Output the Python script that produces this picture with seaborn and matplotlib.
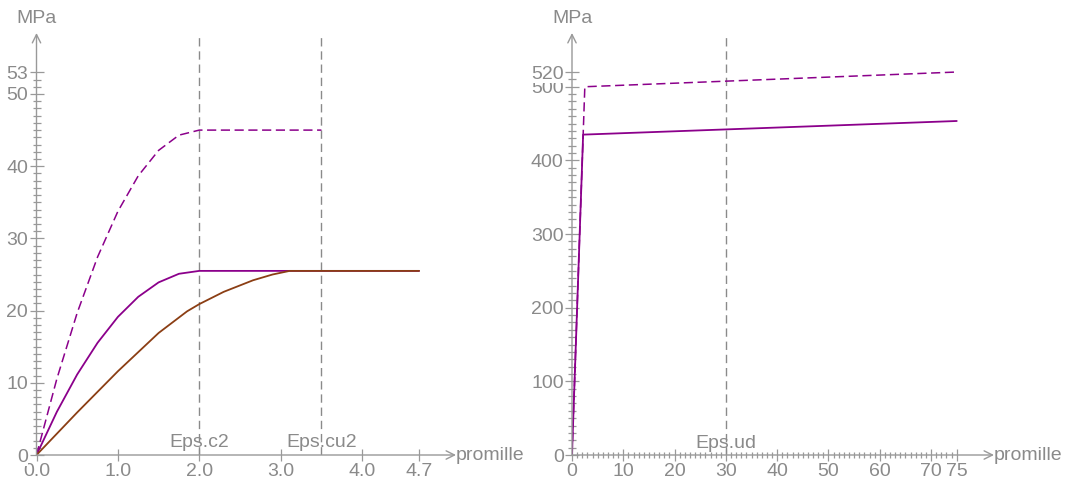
import numpy as np
import matplotlib
matplotlib.use("Agg")
import matplotlib.pyplot as plt
import seaborn as sns

# concrete (promille, MPa)
eps_design = [0.0, 0.25, 0.5, 0.75, 1.0, 1.25, 1.5, 1.75, 2.0, 4.7]
sig_design = [0.0, 5.98, 11.16, 15.54, 19.13, 21.91, 23.91, 25.10, 25.5, 25.5]
eps_char = [0.0, 0.25, 0.5, 0.75, 1.0, 1.25, 1.5, 1.75, 2.0, 3.5]
sig_char = [0.0, 10.55, 19.69, 27.42, 33.75, 38.67, 42.19, 44.30, 45.0, 45.0]
eps_nl = [0.0, 0.5, 1.0, 1.5, 1.85, 2.0, 2.3, 2.66, 2.9, 3.11, 4.7]
sig_nl = [0.0, 5.9, 11.6, 16.9, 19.9, 20.9, 22.6, 24.2, 25.0, 25.5, 25.5]
conc_lines = [2.0, 3.5]
conc_names = ["Eps.c2", "Eps.cu2"]
conc_xticks = [0.0, 1.0, 2.0, 3.0, 4.0, 4.7]
conc_yticks = [0, 10, 20, 30, 40, 50, 53]

# steel (promille, MPa)
eps_s_design = [0.0, 2.17, 75.0]
sig_s_design = [0.0, 435.0, 453.5]
eps_s_char = [0.0, 2.5, 75.0]
sig_s_char = [0.0, 500.0, 520.0]
steel_lines = [30.0]
steel_names = ["Eps.ud"]
steel_xticks = [0, 10, 20, 30, 40, 50, 60, 70, 75]
steel_yticks = [0, 100, 200, 300, 400, 500, 520]

sns.set_style("white")
plt.rcParams["font.family"] = ["Liberation Sans", "DejaVu Sans"]

grey = "#8a8a8a"
axgrey = "#999999"
purple = "#8b008b"
brown = "#8b3e14"
fs = 14
W, H = 1068, 482

fig = plt.figure(figsize=(W / 100, H / 100), dpi=100)


def setup(ax, xmax, ymax, xticks, xlabels, yticks, xminor, yminor):
    ax.set_xlim(0, xmax)
    ax.set_ylim(0, ymax)
    for s in ax.spines.values():
        s.set_visible(False)
    ax.set_xticks(xticks)
    ax.set_xticklabels(xlabels)
    ax.set_yticks(yticks)
    ax.set_yticklabels([str(v) for v in yticks])
    if xminor is not None:
        ax.set_xticks(xminor, minor=True)
    ax.set_yticks(yminor, minor=True)
    ax.tick_params(which="both", bottom=True, left=True, top=False, right=False)
    ax.tick_params(which="major", direction="inout", length=10, width=0.9,
                   color=axgrey, labelcolor=grey, labelsize=fs, pad=1)
    ax.tick_params(which="minor", direction="inout", length=6, width=0.9,
                   color=axgrey)
    ax.tick_params(axis="x", which="minor", length=5)
    ax.tick_params(axis="x", which="major", length=9)
    for lab in ax.get_yticklabels():
        lab.set_bbox(dict(facecolor="white", edgecolor="none", pad=0))
    arrow = dict(arrowstyle="->,head_length=0.6,head_width=0.3",
                 color=axgrey, lw=1, shrinkA=0, shrinkB=0)
    ax.annotate("", xy=(xmax, 0), xytext=(0, 0), arrowprops=arrow,
                annotation_clip=False)
    ax.annotate("", xy=(0, ymax), xytext=(0, 0), arrowprops=arrow,
                annotation_clip=False)
    ax.text(xmax, 0, "promille", ha="left", va="center", fontsize=fs,
            color=grey, clip_on=False)
    ax.annotate("MPa", xy=(0, ymax), xytext=(0, 4), textcoords="offset points",
                ha="center", va="bottom", fontsize=fs, color=grey,
                annotation_clip=False)


# left: concrete
ax1 = fig.add_axes([36.5 / W, 27 / H, 419.5 / W, 422 / H])
setup(ax1, 419.5 / 81.4, 422 / 7.22, conc_xticks,
      [f"{v:.1f}" for v in conc_xticks], conc_yticks, None,
      np.arange(0, 54, 1))
for x, name in zip(conc_lines, conc_names):
    ax1.axvline(x, color=grey, lw=1, linestyle=(0, (6, 3.5)))
    ax1.text(x, 0.5, name, ha="center", va="bottom", fontsize=fs, color=grey)
sns.lineplot(x=eps_char, y=sig_char, ax=ax1, color=purple, lw=1.1,
             linestyle=(0, (6, 3)), sort=False, estimator=None)
sns.lineplot(x=eps_design, y=sig_design, ax=ax1, color=purple, lw=1.3,
             sort=False, estimator=None)
sns.lineplot(x=eps_nl, y=sig_nl, ax=ax1, color=brown, lw=1.3,
             sort=False, estimator=None)
ax1.set_xlim(0, 419.5 / 81.4)
ax1.set_ylim(0, 422 / 7.22)

# right: steel
ax2 = fig.add_axes([572 / W, 27 / H, 422 / W, 422 / H])
setup(ax2, 422 / 5.13, 422 / 0.7365, steel_xticks,
      [str(v) for v in steel_xticks], steel_yticks, np.arange(0, 76, 1),
      np.arange(0, 521, 10))
for x, name in zip(steel_lines, steel_names):
    ax2.axvline(x, color=grey, lw=1, linestyle=(0, (6, 3.5)))
    ax2.text(x, 4, name, ha="center", va="bottom", fontsize=fs, color=grey)
sns.lineplot(x=eps_s_char, y=sig_s_char, ax=ax2, color=purple, lw=1.1,
             linestyle=(0, (6, 3)), sort=False, estimator=None)
sns.lineplot(x=eps_s_design, y=sig_s_design, ax=ax2, color=purple, lw=1.3,
             sort=False, estimator=None)
ax2.set_xlim(0, 422 / 5.13)
ax2.set_ylim(0, 422 / 0.7365)

fig.savefig("out.png", dpi=100)
